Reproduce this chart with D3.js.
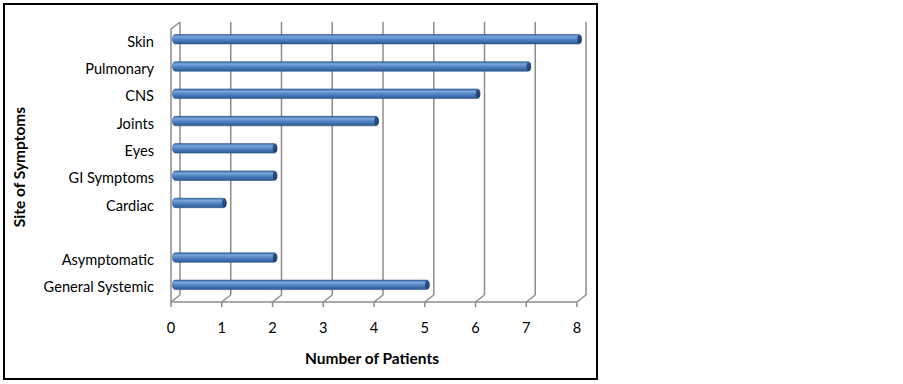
<!DOCTYPE html>
<html>
<head>
<meta charset="utf-8">
<script src="https://cdn.jsdelivr.net/npm/d3@7"></script>
<style>
  body { margin: 0; background: #fff; }
  svg { display: block; font-family: Lato, "Open Sans", sans-serif; }
</style>
</head>
<body>
<div id="chart"></div>
<script>
const categories = ["Skin", "Pulmonary", "CNS", "Joints", "Eyes", "GI Symptoms", "Cardiac", "", "Asymptomatic", "General Systemic"];
const patients = [8, 7, 6, 4, 2, 2, 1, null, 2, 5];
const xTicks = [0, 1, 2, 3, 4, 5, 6, 7, 8];

const width = 903, height = 384;
const dx = 9, dy = -7;     // depth of the 3d box
const barH = 9.5;
const plotTop = 29, plotBottom = 302;

const svg = d3.select("#chart")
  .append("svg")
  .attr("width", width)
  .attr("height", height);

// outer frame
svg.append("rect")
  .attr("x", 4).attr("y", 4)
  .attr("width", 593).attr("height", 375)
  .attr("fill", "none")
  .attr("stroke", "#000")
  .attr("stroke-width", 2);

const x = d3.scaleLinear().domain([0, 8]).range([171, 577]);
const y = d3.scaleBand().domain(categories).range([plotTop, plotBottom]);

const grid = svg.append("g")
  .attr("stroke", "#8c8c8c")
  .attr("stroke-width", 1.5)
  .attr("fill", "none");

// back wall gridlines
grid.append("g").selectAll("line")
  .data(xTicks)
  .join("line")
  .attr("x1", d => x(d) + dx).attr("x2", d => x(d) + dx)
  .attr("y1", plotTop + dy).attr("y2", plotBottom + dy);

// floor diagonals
grid.append("g").selectAll("line")
  .data(xTicks)
  .join("line")
  .attr("x1", d => x(d)).attr("x2", d => x(d) + dx)
  .attr("y1", plotBottom).attr("y2", plotBottom + dy);

// front baseline + ticks
grid.append("line")
  .attr("x1", x(0)).attr("x2", x(8))
  .attr("y1", plotBottom).attr("y2", plotBottom);
grid.append("g").selectAll("line")
  .data(xTicks)
  .join("line")
  .attr("x1", d => x(d)).attr("x2", d => x(d))
  .attr("y1", plotBottom).attr("y2", plotBottom + 5);

// left side wall
grid.append("path")
  .attr("d", `M${x(0)},${plotBottom}V${plotTop}L${x(0) + dx},${plotTop + dy}`);

// bar gradients
const defs = svg.append("defs");
const body = defs.append("linearGradient")
  .attr("id", "barBody").attr("x1", 0).attr("x2", 0).attr("y1", 0).attr("y2", 1);
body.append("stop").attr("offset", "0%").attr("stop-color", "#3c6aa6");
body.append("stop").attr("offset", "25%").attr("stop-color", "#7aa6dc");
body.append("stop").attr("offset", "55%").attr("stop-color", "#4f82c2");
body.append("stop").attr("offset", "100%").attr("stop-color", "#2e5a92");
const cap = defs.append("linearGradient")
  .attr("id", "barCap").attr("x1", 0).attr("x2", 0).attr("y1", 0).attr("y2", 1);
cap.append("stop").attr("offset", "0%").attr("stop-color", "#2d5488");
cap.append("stop").attr("offset", "100%").attr("stop-color", "#1f3f6a");

const rows = categories.map((c, i) => ({ cat: c, value: patients[i] })).filter(d => d.value != null);

const bars = svg.append("g")
  .selectAll("g")
  .data(rows)
  .join("g")
  .attr("transform", d => `translate(0,${y(d.cat) + y.bandwidth() / 2 + dy / 2})`);

bars.append("rect")
  .attr("x", x(0) + 1.5)
  .attr("y", -barH / 2)
  .attr("width", d => x(d.value) - x(0) + dx / 2 - 1.5)
  .attr("height", barH)
  .attr("rx", 3).attr("ry", barH / 2)
  .attr("fill", "url(#barBody)")
  .attr("stroke", "#2b5185")
  .attr("stroke-width", 0.6);

bars.append("ellipse")
  .attr("cx", d => x(d.value) + dx / 2 - 2)
  .attr("cy", 0)
  .attr("rx", 2.2)
  .attr("ry", barH / 2 - 0.5)
  .attr("fill", "url(#barCap)");

// category labels
svg.append("g")
  .attr("font-size", 14.6)
  .attr("text-anchor", "end")
  .attr("fill", "#000")
  .selectAll("text")
  .data(categories)
  .join("text")
  .attr("x", 154)
  .attr("y", d => y(d) + y.bandwidth() / 2 - 1)
  .attr("dy", "0.35em")
  .text(d => d);

// tick labels
svg.append("g")
  .attr("font-size", 14.6)
  .attr("text-anchor", "middle")
  .selectAll("text")
  .data(xTicks)
  .join("text")
  .attr("x", d => x(d))
  .attr("y", 333)
  .text(d => d);

// axis titles
svg.append("text")
  .attr("x", 372).attr("y", 364)
  .attr("text-anchor", "middle")
  .attr("font-size", 15.5)
  .attr("font-weight", "bold")
  .text("Number of Patients");

svg.append("text")
  .attr("transform", "translate(25,167) rotate(-90)")
  .attr("text-anchor", "middle")
  .attr("font-size", 15.5)
  .attr("font-weight", "bold")
  .text("Site of Symptoms");
</script>
</body>
</html>
